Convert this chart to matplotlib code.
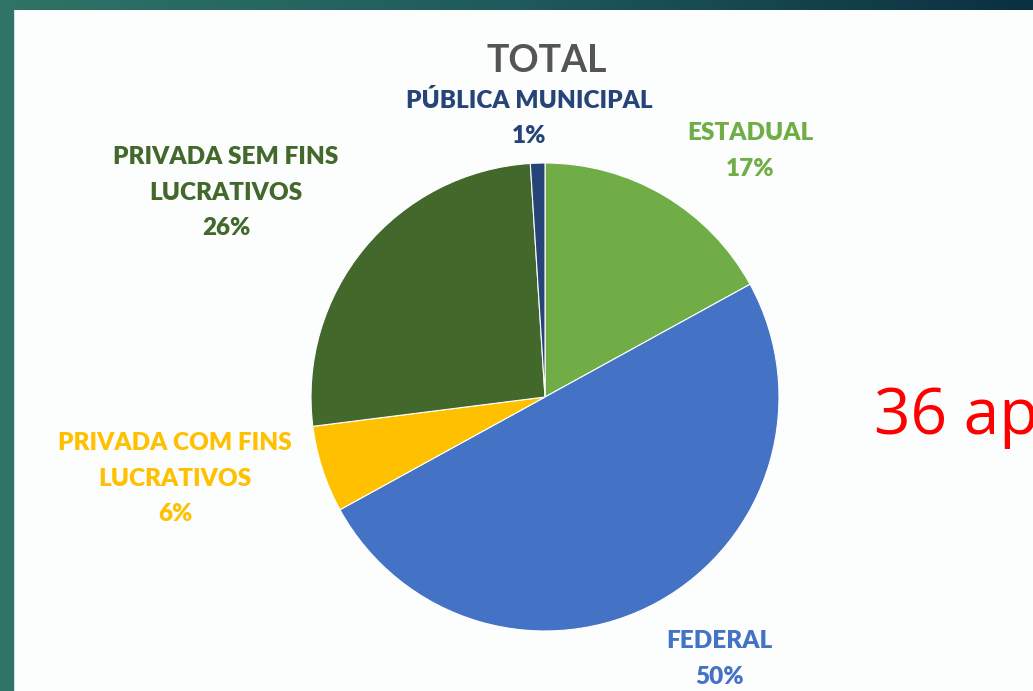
import matplotlib
matplotlib.use("Agg")
import matplotlib.pyplot as plt
import numpy as np
from matplotlib.colors import LinearSegmentedColormap

# Shares by institution type (percent), clockwise from 12 o'clock
categories = ["ESTADUAL", "FEDERAL", "PRIVADA COM FINS\nLUCRATIVOS",
              "PRIVADA SEM FINS\nLUCRATIVOS", "PÚBLICA MUNICIPAL"]
shares = [17, 50, 6, 26, 1]
colors = ["#70ad47", "#4472c4", "#ffc000", "#43682b", "#264478"]

W, H = 1033, 691
fig = plt.figure(figsize=(W / 100, H / 100), dpi=100)
fig.patch.set_facecolor("#fcfdfd")

ax = fig.add_axes([0, 0, 1, 1])
ax.set_xlim(0, W)
ax.set_ylim(0, H)
ax.set_aspect("equal")
ax.axis("off")

# Frame: teal strip on the left, teal-to-navy band across the top
ax.add_patch(plt.Rectangle((0, 0), 13, H, color="#2f7466", zorder=1))
grad = np.linspace(0, 1, 256).reshape(1, -1)
cmap = LinearSegmentedColormap.from_list("band", ["#2f7466", "#1f5a5c", "#0b3040"])
ax.imshow(grad, cmap=cmap, extent=(0, W, H - 10, H), aspect="auto", zorder=1)

# Pie
cx, cy, r = 545, H - 397, 234
ax.pie(shares, colors=colors, startangle=90, counterclock=False,
       center=(cx, cy), radius=r, frame=True,
       wedgeprops=dict(edgecolor="white", linewidth=0.8))
ax.set_xlim(0, W)
ax.set_ylim(0, H)
ax.axis("off")

ax.text(547, H - 61, "TOTAL", ha="center", va="center", fontsize=27,
        fontweight="bold", color="#555555", family="Lato")

# Centre of each label's first line; later lines follow at a fixed gap
label_pos = {
    "ESTADUAL": (750, 131),
    "FEDERAL": (719, 639),
    "PRIVADA COM FINS\nLUCRATIVOS": (175, 441),
    "PRIVADA SEM FINS\nLUCRATIVOS": (226, 155),
    "PÚBLICA MUNICIPAL": (529, 98),
}
line_gap = 35.5
for cat, val, col in zip(categories, shares, colors):
    x, y = label_pos[cat]
    lines = cat.split("\n") + [f"{val}%"]
    for i, line in enumerate(lines):
        ax.text(x, H - (y + i * line_gap), line, ha="center", va="center_baseline",
                fontsize=17.5, fontweight="heavy", color=col, family="Lato")

ax.text(874, H - 417, "36 ap", ha="left", va="center", fontsize=46,
        color="#ff0000", family="Open Sans")

fig.savefig("out.png", dpi=100)
